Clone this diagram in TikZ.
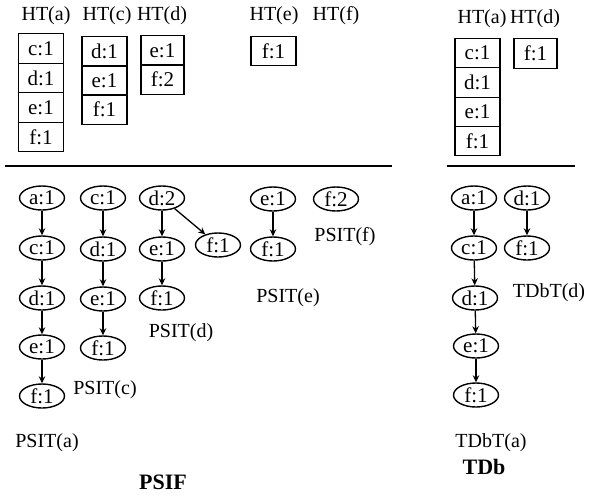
\documentclass[tikz,border=0pt]{standalone}
\usepackage{fontspec}
\setmainfont{Liberation Serif}
\usetikzlibrary{arrows.meta,shapes.geometric}
\begin{document}
\begin{tikzpicture}[x=1pt,y=-1pt,
  txt/.style={font=\fontsize{20}{22}\selectfont,inner sep=0pt},
  intxt/.style={font=\fontsize{21}{23}\selectfont,inner sep=0pt},
  cell/.style={intxt,draw,line width=1.3pt,minimum width=45pt,minimum height=29.5pt},
  ell/.style={intxt,draw,ellipse,line width=1.4pt,minimum width=45pt,minimum height=24pt},
  ttl/.style={font=\fontsize{22}{24}\selectfont\bfseries,inner sep=0pt},
  arr/.style={-{Stealth[length=7pt,width=6.5pt]},line width=1.3pt},
  rule/.style={line width=1.4pt}]
\useasboundingbox (0,0) rectangle (592,496);
% ---- hash tables ----
\node[txt] (lHTa) at (46,16) {HT(a)};
\node[txt] (lHTc) at (107,16) {HT(c)};
\node[txt] (lHTd) at (162,16) {HT(d)};
\node[txt] (lHTe) at (274,16) {HT(e)};
\node[txt] (lHTf) at (336,16) {HT(f)};
\node[txt] (rHTa) at (482,19) {HT(a)};
\node[txt] (rHTd) at (535,19) {HT(d)};

\node[cell] (ha1) at (41,48.5) {c:1};
\node[cell] (ha2) at (41,78) {d:1};
\node[cell] (ha3) at (41,107.5) {e:1};
\node[cell] (ha4) at (41,137) {f:1};

\node[cell] (hc1) at (104.5,51.5) {d:1};
\node[cell] (hc2) at (104.5,80.5) {e:1};
\node[cell] (hc3) at (104.5,109.5) {f:1};

\node[cell,minimum width=43pt] (hd1) at (162.5,50.5) {e:1};
\node[cell,minimum width=43pt] (hd2) at (162.5,79.5) {f:2};

\node[cell] (he1) at (273.5,51) {f:1};

\node[cell] (ra1) at (477.5,53) {c:1};
\node[cell] (ra2) at (477.5,82.5) {d:1};
\node[cell] (ra3) at (477.5,112) {e:1};
\node[cell] (ra4) at (477.5,141) {f:1};

\node[cell,minimum width=43pt] (rd1) at (535.5,53.5) {f:1};

% ---- separators ----
\coordinate (L1) at (5,166);
\coordinate (L2) at (392,166);
\coordinate (R1) at (447,166);
\coordinate (R2) at (575,166);
\draw[rule] (L1) -- (L2);
\draw[rule] (R1) -- (R2);

% ---- PSIT(a) ----
\node[ell] (pa1) at (42,198) {a:1};
\node[ell] (pa2) at (42,248) {c:1};
\node[ell] (pa3) at (42,298) {d:1};
\node[ell] (pa4) at (42,347) {e:1};
\node[ell] (pa5) at (42,396) {f:1};
\draw[arr] (pa1) -- (pa2);
\draw[arr] (pa2) -- (pa3);
\draw[arr] (pa3) -- (pa4);
\draw[arr] (pa4) -- (pa5);
\node[txt] (tpa) at (47,443) {PSIT(a)};

% ---- PSIT(c) ----
\node[ell] (pc1) at (103,198) {c:1};
\node[ell] (pc2) at (103,249) {d:1};
\node[ell] (pc3) at (103,299) {e:1};
\node[ell] (pc4) at (103,348) {f:1};
\draw[arr] (pc1) -- (pc2);
\draw[arr] (pc2) -- (pc3);
\draw[arr] (pc3) -- (pc4);
\node[txt] (tpc) at (105,390) {PSIT(c)};

% ---- PSIT(d) ----
\node[ell] (pd1) at (162,198) {d:2};
\node[ell] (pd2) at (162,249) {e:1};
\node[ell] (pd3) at (162,298) {f:1};
\node[ell] (pd4) at (218,245) {f:1};
\draw[arr] (pd1) -- (pd2);
\draw[arr] (pd2) -- (pd3);
\draw[arr] (pd1) -- (pd4);
\node[txt] (tpd) at (181,333) {PSIT(d)};

% ---- PSIT(e), PSIT(f) ----
\node[ell] (pe1) at (273,199) {e:1};
\node[ell] (pe2) at (273,249) {f:1};
\draw[arr] (pe1) -- (pe2);
\node[txt] (tpe) at (288,298) {PSIT(e)};
\node[ell] (pf1) at (336,199) {f:2};
\node[txt] (tpf) at (345,237) {PSIT(f)};

% ---- TDbT(a) ----
\node[ell] (ta1) at (474,198) {a:1};
\node[ell] (ta2) at (474,248) {c:1};
\node[ell] (ta3) at (475,298) {d:1};
\node[ell] (ta4) at (476,346) {e:1};
\node[ell] (ta5) at (476,395) {f:1};
\draw[arr] (ta1) -- (ta2);
\draw[arr] (ta2) -- (ta3);
\draw[arr] (ta3) -- (ta4);
\draw[arr] (ta4) -- (ta5);
\node[txt] (tta) at (491,443) {TDbT(a)};

% ---- TDbT(d) ----
\node[ell] (td1) at (527,198) {d:1};
\node[ell] (td2) at (527,248) {f:1};
\draw[arr] (td1) -- (td2);
\node[txt] (ttd) at (549,293) {TDbT(d)};

% ---- titles ----
\node[ttl] (psif) at (163,482) {PSIF};
\node[ttl] (tdb) at (484,467) {TDb};
\end{tikzpicture}
\end{document}
